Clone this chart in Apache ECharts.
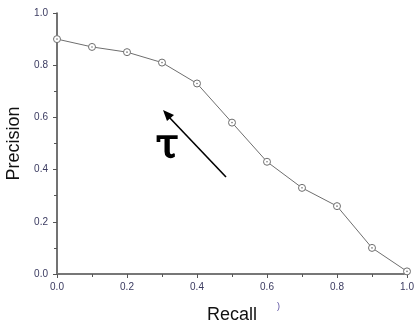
<!DOCTYPE html>
<html>
<head>
<meta charset="utf-8">
<script src="https://cdn.jsdelivr.net/npm/echarts@6/dist/echarts.min.js"></script>
<style>
  html, body { margin: 0; padding: 0; background: #fff; }
  #chart { width: 415px; height: 323px; }
</style>
</head>
<body>
<div id="chart"></div>
<script>
// Precision-recall curve sampled at fixed recall steps
const recall = [0.0, 0.1, 0.2, 0.3, 0.4, 0.5, 0.6, 0.7, 0.8, 0.9, 1.0];
const precision = [0.90, 0.87, 0.85, 0.81, 0.73, 0.58, 0.43, 0.33, 0.26, 0.10, 0.01];
const xTicks = ['0.0', '0.2', '0.4', '0.6', '0.8', '1.0'];
const yTicks = ['0.0', '0.2', '0.4', '0.6', '0.8', '1.0'];

const chart = echarts.init(document.getElementById('chart'), null, { renderer: 'canvas' });

const tickLabel = { color: '#3a3a60', fontSize: 10, fontFamily: 'Liberation Sans, Arial, sans-serif' };
const nameStyle = { fontSize: 18, color: '#111', fontFamily: 'Liberation Sans, Arial, sans-serif' };

chart.setOption({
  animation: false,
  grid: { left: 57, right: 8, top: 13, bottom: 49, containLabel: false, outerBoundsMode: 'none' },
  xAxis: {
    type: 'value', min: 0, max: 1, interval: 0.2,
    name: 'Recall', nameLocation: 'middle', nameGap: 32,
    nameTextStyle: nameStyle,
    axisLine: { show: true, lineStyle: { color: '#777', width: 2 } },
    axisTick: { show: true, inside: false, length: 4, lineStyle: { color: '#555' } },
    minorTick: { show: true, splitNumber: 2, length: 3, lineStyle: { color: '#555' } },
    axisLabel: Object.assign({ margin: 8, formatter: v => xTicks[Math.round(v / 0.2)] }, tickLabel),
    splitLine: { show: false }
  },
  yAxis: {
    type: 'value', min: 0, max: 1, interval: 0.2,
    name: 'Precision', nameLocation: 'middle', nameGap: 30, nameRotate: 90,
    nameTextStyle: nameStyle,
    axisLine: { show: true, lineStyle: { color: '#444', width: 1.5 } },
    axisTick: { show: true, inside: false, length: 4, lineStyle: { color: '#555' } },
    minorTick: { show: true, splitNumber: 2, length: 3, lineStyle: { color: '#555' } },
    axisLabel: Object.assign({ margin: 9, formatter: v => yTicks[Math.round(v / 0.2)] }, tickLabel),
    splitLine: { show: false }
  },
  series: [
    {
      type: 'line',
      data: recall.map((r, i) => [r, precision[i]]),
      symbol: 'circle',
      symbolSize: 7,
      showAllSymbol: true,
      lineStyle: { color: '#6e6e6e', width: 1 },
      itemStyle: { color: '#fff', borderColor: '#6e6e6e', borderWidth: 1 },
      z: 2
    },
    {
      // centre dots inside the hollow markers
      type: 'scatter',
      data: recall.map((r, i) => [r, precision[i]]),
      symbol: 'circle',
      symbolSize: 1.6,
      itemStyle: { color: '#555' },
      z: 3
    }
  ],
  graphic: [
    {
      type: 'line',
      shape: { x1: 226, y1: 177, x2: 168, y2: 116 },
      style: { stroke: '#000', lineWidth: 1.6 }
    },
    {
      type: 'polygon',
      shape: { points: [[163, 110], [174, 115], [167, 121]] },
      style: { fill: '#000' }
    },
    {
      type: 'text',
      left: 155, top: 125,
      style: { text: 'τ', fontSize: 41, fontFamily: 'DejaVu Serif, serif', fill: '#000', stroke: '#000', lineWidth: 1.6 }
    },
    {
      type: 'text',
      left: 277, top: 302,
      style: { text: ')', fontSize: 9, fontFamily: 'Liberation Sans, Arial, sans-serif', fill: '#5a4fa0' }
    }
  ]
});
</script>
</body>
</html>
